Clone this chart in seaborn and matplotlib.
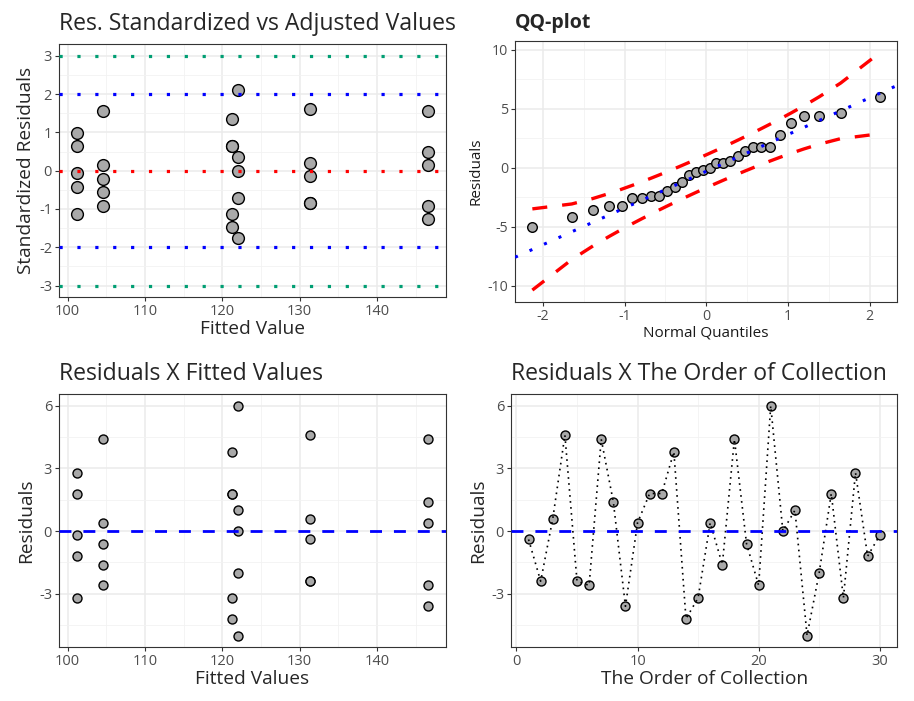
import numpy as np
import pandas as pd
import matplotlib
matplotlib.use("Agg")
import matplotlib.pyplot as plt
from matplotlib.transforms import Bbox, TransformedBbox
import seaborn as sns
from statistics import NormalDist

order = list(range(1, 31))
residuals = [-0.4, -2.4, 0.6, 4.6, -2.4,
             -2.6, 4.4, 1.4, -3.6, 0.4,
             1.8, 1.8, 3.8, -4.2, -3.2,
             0.4, -1.6, 4.4, -0.6, -2.6,
             6.0, 0.0, 1.0, -5.0, -2.0,
             1.8, -3.2, 2.8, -1.2, -0.2]
group_fitted = [131.4, 146.6, 121.2, 104.6, 122.0, 101.2]
fitted = [f for f in group_fitted for _ in range(5)]

df = pd.DataFrame({"order": order, "fitted": fitted, "res": residuals})

# standardized residuals (leverage 1/5 per group, 24 residual df)
n_groups = 6
s = np.sqrt((df["res"] ** 2).sum() / (len(df) - n_groups))
df["std_res"] = df["res"] / (s * np.sqrt(1 - 1 / 5))

# QQ values
nd = NormalDist()
n = len(df)
sorted_res = np.sort(df["res"].values)
probs = (np.arange(1, n + 1) - 0.5) / n
theo = np.array([nd.inv_cdf(p) for p in probs])
q1, q3 = np.quantile(sorted_res, [0.25, 0.75])
slope = (q3 - q1) / (nd.inv_cdf(0.75) - nd.inv_cdf(0.25))
intercept = q1 - slope * nd.inv_cdf(0.25)
fit_line = intercept + slope * theo
se = slope / np.array([nd.pdf(z) for z in theo]) * np.sqrt(probs * (1 - probs) / n)
zc = nd.inv_cdf(0.975)
qq = pd.DataFrame({"theo": theo, "sample": sorted_res,
                   "upper": fit_line + zc * se, "lower": fit_line - zc * se})

sns.set_style("white")
plt.rcParams["font.family"] = ["Open Sans", "DejaVu Sans"]

fig = plt.figure(figsize=(9.14, 7.01), dpi=100)
ax1 = fig.add_axes([0.0646, 0.5763, 0.4231, 0.3605])
ax2 = fig.add_axes([0.5635, 0.5688, 0.4183, 0.3728])
ax3 = fig.add_axes([0.0646, 0.0770, 0.4231, 0.3605])
ax4 = fig.add_axes([0.5591, 0.0770, 0.4226, 0.3605])

fill = "#A9A9A9"
title_size = 16.6
label_size = 13.8
tick_size = 10.5


def style_axes(ax, xmaj, xmin, ymaj, ymin, tsize=tick_size):
    ax.set_xticks(xmaj)
    ax.set_xticks(xmin, minor=True)
    ax.set_yticks(ymaj)
    ax.set_yticks(ymin, minor=True)
    ax.grid(which="major", color="#EBEBEB", lw=1.1, zorder=0)
    ax.grid(which="minor", color="#F2F2F2", lw=0.6, zorder=0)
    ax.set_axisbelow(True)
    for sp in ax.spines.values():
        sp.set_color("#333333")
        sp.set_linewidth(0.8)
    ax.tick_params(which="major", length=3, width=0.8, color="#333333",
                   labelcolor="#4D4D4D", labelsize=tsize, pad=2,
                   bottom=True, left=True)
    ax.tick_params(which="minor", length=0)


# Panel 1: standardized residuals vs fitted
sns.scatterplot(data=df, x="fitted", y="std_res", ax=ax1, s=72, color=fill,
                edgecolor="black", linewidth=1, zorder=2)
dots = (0, (1, 4.6))
for yv, c in [(3, "#009E73"), (-3, "#009E73"), (2, "blue"), (-2, "blue"), (0, "red")]:
    ax1.axhline(yv, color=c, lw=2.3, ls=dots, zorder=3)
ax1.set_xlim(98.9, 148.9)
ax1.set_ylim(-3.3, 3.3)
style_axes(ax1, [100, 110, 120, 130, 140], [105, 115, 125, 135, 145],
           [-3, -2, -1, 0, 1, 2, 3], [-2.5, -1.5, -0.5, 0.5, 1.5, 2.5])
ax1.set_xticklabels(["100", "110", "120", "130", "140"])
ax1.set_yticklabels(["-3", "-2", "-1", "0", "1", "2", "3"])
ax1.set_xlabel("Fitted Value", fontsize=label_size, labelpad=1)
ax1.set_ylabel("Standardized Residuals", fontsize=label_size, labelpad=3)
t1 = ax1.set_title("Res. Standardized vs Adjusted Values", loc="left",
                   fontsize=title_size, pad=10)
t1.set_clip_on(True)
t1.set_clip_box(TransformedBbox(Bbox([[0, 0], [455 / 914, 1]]), fig.transFigure))

# Panel 2: QQ-plot
sns.lineplot(data=qq, x="theo", y="upper", ax=ax2, color="red", lw=2.4,
             zorder=2).lines[-1].set_linestyle((0, (4.5, 4.5)))
sns.lineplot(data=qq, x="theo", y="lower", ax=ax2, color="red", lw=2.4,
             zorder=2).lines[-1].set_linestyle((0, (4.5, 4.5)))
sns.scatterplot(data=qq, x="theo", y="sample", ax=ax2, s=48, color=fill,
                edgecolor="black", linewidth=1, zorder=3)
ax2.axline((0, intercept), slope=slope, color="blue", lw=2.2,
           ls=(0, (1, 4.2)), zorder=4)
ax2.set_xlim(-2.34, 2.34)
ax2.set_ylim(-11.4, 10.75)
style_axes(ax2, [-2, -1, 0, 1, 2], [-1.5, -0.5, 0.5, 1.5],
           [-10, -5, 0, 5, 10], [-7.5, -2.5, 2.5, 7.5], tsize=10.2)
ax2.set_xticklabels(["-2", "-1", "0", "1", "2"])
ax2.set_yticklabels(["-10", "-5", "0", "5", "10"])
ax2.set_xlabel("Normal Quantiles", fontsize=11, labelpad=1, color="#1A1A1A")
ax2.set_ylabel("Residuals", fontsize=11, labelpad=3, color="#1A1A1A")
ax2.set_title("QQ-plot", loc="left", fontsize=14, fontweight="bold", pad=9)

# Panel 3: residuals vs fitted
sns.scatterplot(data=df, x="fitted", y="res", ax=ax3, s=42, color=fill,
                edgecolor="black", linewidth=1, zorder=2)
ax3.axhline(0, color="blue", lw=2, ls=(0, (4.3, 4.3)), zorder=3)
ax3.set_xlim(98.9, 148.9)
ax3.set_ylim(-5.55, 6.55)
style_axes(ax3, [100, 110, 120, 130, 140], [105, 115, 125, 135, 145],
           [-3, 0, 3, 6], [-4.5, -1.5, 1.5, 4.5])
ax3.set_xticklabels(["100", "110", "120", "130", "140"])
ax3.set_yticklabels(["-3", "0", "3", "6"])
ax3.set_xlabel("Fitted Values", fontsize=label_size, labelpad=1)
ax3.set_ylabel("Residuals", fontsize=label_size, labelpad=3)
ax3.set_title("Residuals X Fitted Values", loc="left", fontsize=title_size, pad=10)

# Panel 4: residuals vs order of collection
sns.scatterplot(data=df, x="order", y="res", ax=ax4, s=42, color=fill,
                edgecolor="black", linewidth=1, zorder=2)
sns.lineplot(data=df, x="order", y="res", ax=ax4, color="black", lw=1.2,
             zorder=3).lines[-1].set_linestyle((0, (1, 2.6)))
ax4.axhline(0, color="blue", lw=2, ls=(0, (4.3, 4.3)), zorder=3)
ax4.set_xlim(-0.45, 31.45)
ax4.set_ylim(-5.55, 6.55)
style_axes(ax4, [0, 10, 20, 30], [5, 15, 25],
           [-3, 0, 3, 6], [-4.5, -1.5, 1.5, 4.5])
ax4.set_xticklabels(["0", "10", "20", "30"])
ax4.set_yticklabels(["-3", "0", "3", "6"])
ax4.set_xlabel("The Order of Collection", fontsize=label_size, labelpad=1)
ax4.set_ylabel("Residuals", fontsize=label_size, labelpad=3)
ax4.set_title("Residuals X The Order of Collection", loc="left",
              fontsize=title_size, pad=10)

fig.savefig("out.png", dpi=100)
